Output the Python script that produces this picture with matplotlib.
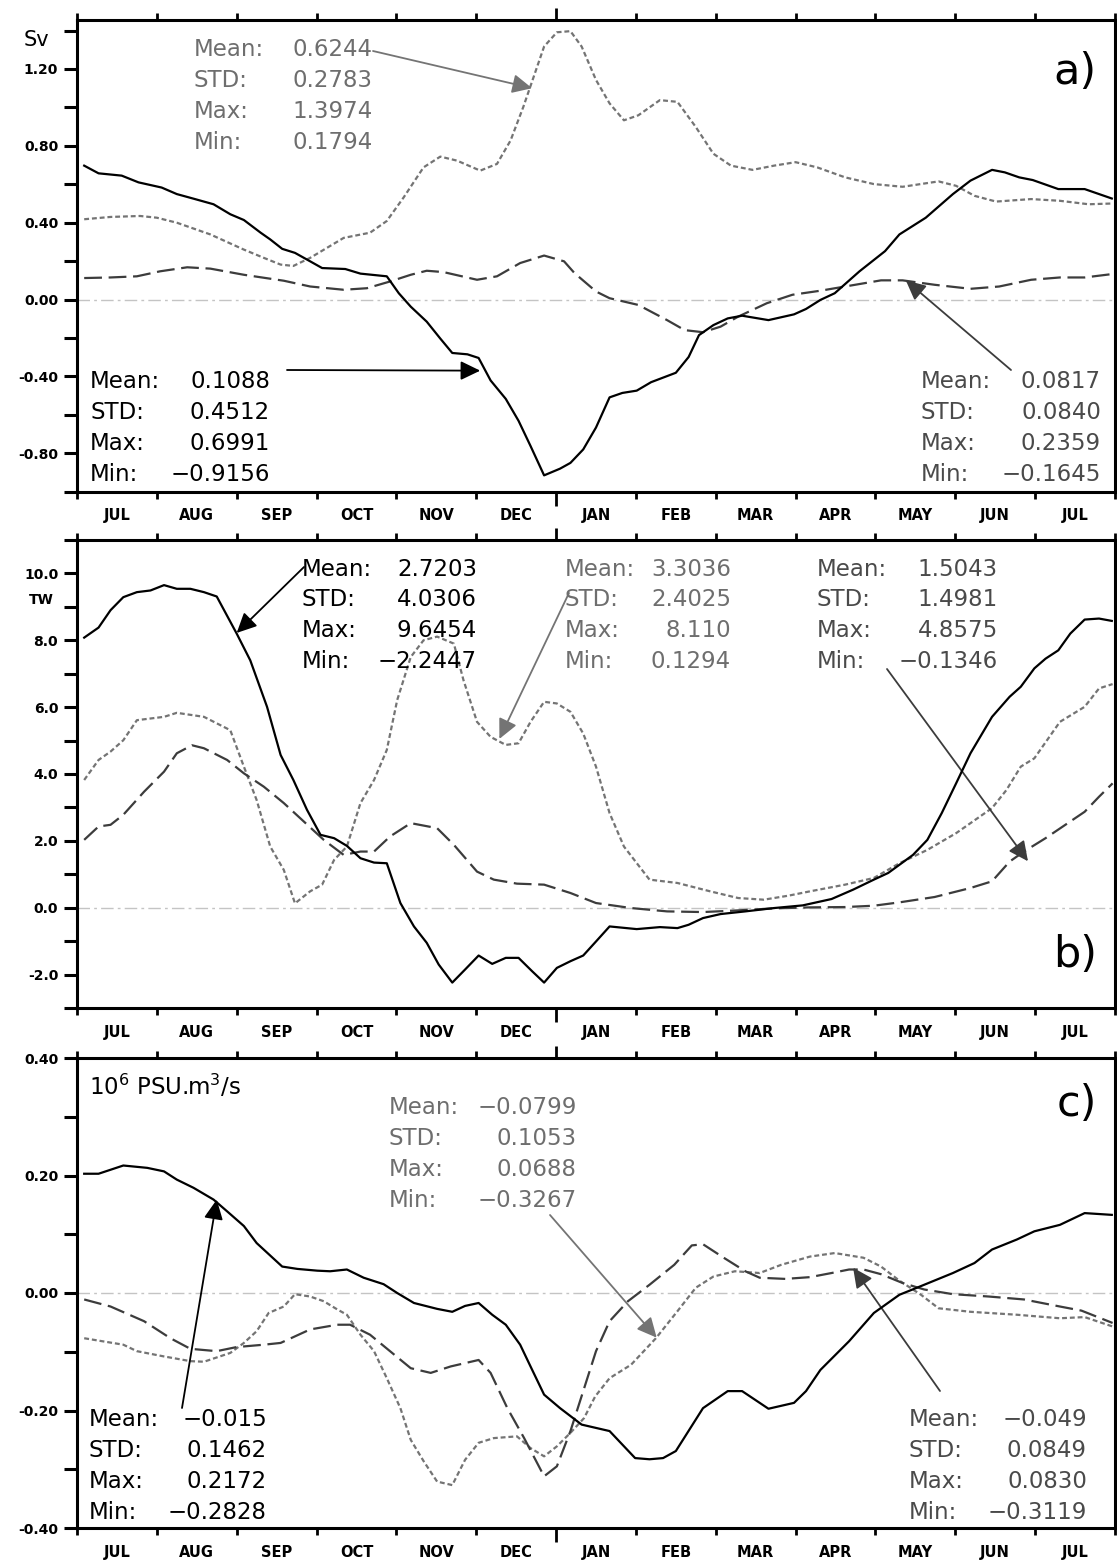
import numpy as np
import matplotlib
matplotlib.use('Agg')
import matplotlib.pyplot as plt
from matplotlib.ticker import FixedLocator, FixedFormatter, FormatStrFormatter, MultipleLocator

# x is in months from 1 JUL (0) to 1 AUG of the next year (13)
MONTHS = ['JUL', 'AUG', 'SEP', 'OCT', 'NOV', 'DEC', 'JAN', 'FEB', 'MAR', 'APR', 'MAY', 'JUN', 'JUL']
STAT_LABELS = ['Mean:', 'STD:', 'Max:', 'Min:']

# ---- panel a (Sv) ----
a_solid_m = [0.09, 0.27, 0.56, 0.77, 1.06, 1.25, 1.46, 1.71, 1.92, 2.09, 2.30, 2.42, 2.57, 2.73, 2.92, 3.07, 3.36,
             3.55, 3.88, 4.03, 4.18, 4.38, 4.55, 4.70, 4.89, 5.03, 5.18, 5.37, 5.53, 5.68, 5.85, 6.05, 6.18, 6.34,
             6.50, 6.67, 6.83, 7.01, 7.19, 7.50, 7.66, 7.79, 7.97, 8.15, 8.33, 8.66, 8.98, 9.13, 9.31, 9.49, 9.80,
             10.12, 10.30, 10.63, 10.97, 11.19, 11.46, 11.62, 11.80, 11.97, 12.29, 12.62, 12.96]
a_solid_v = [0.697, 0.657, 0.645, 0.61, 0.583, 0.549, 0.525, 0.496, 0.444, 0.414, 0.348, 0.313, 0.264, 0.243, 0.199,
             0.164, 0.159, 0.135, 0.121, 0.033, -0.037, -0.115, -0.203, -0.278, -0.285, -0.304, -0.421, -0.517,
             -0.631, -0.762, -0.915, -0.88, -0.85, -0.78, -0.666, -0.509, -0.486, -0.474, -0.43, -0.381, -0.299,
             -0.185, -0.133, -0.098, -0.084, -0.107, -0.077, -0.049, -0.002, 0.033, 0.147, 0.252, 0.339, 0.426,
             0.549, 0.619, 0.675, 0.662, 0.636, 0.622, 0.575, 0.575, 0.526]
a_grey_m = [0.09, 0.42, 0.79, 1.0, 1.25, 1.67, 2.09, 2.34, 2.55, 2.71, 2.92, 3.13, 3.34, 3.67, 3.88, 4.09, 4.34, 4.55,
            4.76, 5.05, 5.26, 5.43, 5.59, 5.72, 5.85, 6.01, 6.18, 6.32, 6.50, 6.67, 6.85, 7.03, 7.30, 7.52, 7.75,
            7.97, 8.19, 8.46, 8.73, 9.00, 9.27, 9.62, 9.98, 10.34, 10.79, 11.01, 11.24, 11.51, 11.95, 12.31, 12.67,
            12.97]
a_grey_v = [0.418, 0.43, 0.435, 0.426, 0.40, 0.339, 0.26, 0.217, 0.182, 0.175, 0.217, 0.269, 0.321, 0.348, 0.409,
            0.531, 0.688, 0.744, 0.723, 0.671, 0.706, 0.828, 1.003, 1.16, 1.317, 1.391, 1.397, 1.317, 1.143, 1.021,
            0.933, 0.959, 1.038, 1.029, 0.898, 0.759, 0.697, 0.675, 0.697, 0.715, 0.688, 0.636, 0.601, 0.587, 0.615,
            0.592, 0.54, 0.51, 0.523, 0.514, 0.496, 0.50]
a_dash_m = [0.09, 0.42, 0.75, 1.04, 1.38, 1.67, 2.09, 2.59, 2.92, 3.34, 3.63, 3.92, 4.18, 4.38, 4.59, 5.01, 5.26,
            5.55, 5.85, 6.10, 6.23, 6.50, 6.67, 7.03, 7.39, 7.61, 7.84, 8.06, 8.28, 8.64, 8.96, 9.31, 9.62, 10.07,
            10.34, 10.74, 11.19, 11.55, 11.95, 12.31, 12.62, 12.97]
a_dash_v = [0.112, 0.115, 0.121, 0.147, 0.168, 0.161, 0.129, 0.098, 0.068, 0.051, 0.059, 0.094, 0.129, 0.15, 0.143,
            0.103, 0.121, 0.19, 0.229, 0.199, 0.138, 0.042, 0.007, -0.028, -0.107, -0.159, -0.17, -0.141, -0.089,
            -0.019, 0.025, 0.046, 0.068, 0.10, 0.10, 0.077, 0.056, 0.068, 0.103, 0.115, 0.115, 0.133]

# ---- panel b (TW) ----
b_solid_m = [0.09, 0.27, 0.42, 0.58, 0.75, 0.92, 1.09, 1.25, 1.42, 1.59, 1.75, 2.0, 2.17, 2.38, 2.55, 2.71, 2.88,
             3.05, 3.22, 3.38, 3.55, 3.72, 3.88, 4.05, 4.22, 4.38, 4.53, 4.70, 4.86, 5.03, 5.20, 5.37, 5.53, 5.70,
             5.85, 6.01, 6.18, 6.34, 6.50, 6.67, 7.01, 7.30, 7.52, 7.66, 7.84, 8.06, 8.37, 8.73, 9.09, 9.45, 9.72,
             9.98, 10.16, 10.47, 10.65, 10.83, 11.01, 11.19, 11.46, 11.68, 11.82, 11.99, 12.13, 12.29, 12.44, 12.62,
             12.80, 12.96]
b_solid_v = [8.08, 8.38, 8.90, 9.29, 9.44, 9.49, 9.65, 9.54, 9.54, 9.44, 9.31, 8.20, 7.40, 6.01, 4.57, 3.82, 2.93,
             2.18, 2.08, 1.85, 1.48, 1.35, 1.33, 0.14, -0.56, -1.05, -1.70, -2.24, -1.85, -1.43, -1.68, -1.50, -1.50,
             -1.90, -2.24, -1.80, -1.60, -1.43, -1.01, -0.56, -0.64, -0.58, -0.61, -0.51, -0.31, -0.19, -0.11, -0.01,
             0.07, 0.26, 0.54, 0.84, 1.04, 1.58, 2.03, 2.83, 3.72, 4.62, 5.71, 6.31, 6.61, 7.16, 7.45, 7.70, 8.20,
             8.62, 8.65, 8.58]
b_grey_m = [0.09, 0.27, 0.42, 0.58, 0.75, 1.09, 1.25, 1.59, 1.92, 2.09, 2.25, 2.42, 2.59, 2.73, 2.92, 3.07, 3.22,
            3.38, 3.55, 3.72, 3.88, 4.01, 4.18, 4.34, 4.51, 4.72, 4.84, 5.01, 5.18, 5.37, 5.53, 5.68, 5.85, 6.01,
            6.18, 6.34, 6.50, 6.67, 6.85, 7.17, 7.52, 7.93, 8.28, 8.60, 8.91, 9.18, 9.62, 9.98, 10.30, 10.65, 11.01,
            11.46, 11.64, 11.82, 11.99, 12.31, 12.62, 12.80, 12.97]
b_grey_v = [3.82, 4.42, 4.67, 5.01, 5.61, 5.71, 5.83, 5.71, 5.31, 4.22, 3.22, 1.83, 1.13, 0.13, 0.49, 0.69, 1.43,
            1.83, 3.13, 3.82, 4.72, 6.21, 7.50, 8.0, 8.11, 7.90, 6.81, 5.56, 5.11, 4.87, 4.92, 5.56, 6.16, 6.11,
            5.86, 5.21, 4.22, 2.83, 1.83, 0.84, 0.74, 0.49, 0.29, 0.24, 0.36, 0.49, 0.69, 0.89, 1.33, 1.73, 2.23,
            2.98, 3.52, 4.22, 4.47, 5.56, 6.01, 6.56, 6.69]
b_dash_m = [0.09, 0.27, 0.42, 0.58, 0.84, 1.09, 1.25, 1.44, 1.59, 1.88, 2.09, 2.34, 2.59, 2.84, 3.09, 3.34, 3.55,
            3.72, 3.92, 4.18, 4.51, 4.72, 5.01, 5.22, 5.51, 5.85, 6.18, 6.50, 6.94, 7.39, 7.84, 8.28, 8.73, 9.18,
            9.62, 9.98, 10.30, 10.74, 11.19, 11.46, 11.68, 11.86, 12.13, 12.44, 12.62, 12.80, 12.97]
b_dash_v = [2.03, 2.43, 2.48, 2.78, 3.47, 4.07, 4.62, 4.86, 4.77, 4.42, 4.02, 3.62, 3.13, 2.58, 2.03, 1.58, 1.68,
            1.68, 2.13, 2.53, 2.38, 1.88, 1.08, 0.84, 0.72, 0.69, 0.44, 0.14, -0.01, -0.11, -0.13, -0.08, -0.02,
            0.01, 0.02, 0.06, 0.16, 0.32, 0.59, 0.79, 1.38, 1.68, 2.08, 2.58, 2.87, 3.32, 3.72]

# ---- panel c (10^6 PSU.m3/s) ----
c_solid_m = [0.09, 0.27, 0.58, 0.88, 1.09, 1.25, 1.46, 1.71, 1.88, 2.09, 2.25, 2.57, 2.76, 3.01, 3.17, 3.38, 3.59,
             3.84, 4.01, 4.22, 4.51, 4.70, 4.86, 5.03, 5.20, 5.37, 5.55, 5.68, 5.85, 6.05, 6.32, 6.67, 6.99, 7.17,
             7.34, 7.50, 7.84, 8.15, 8.33, 8.66, 8.98, 9.13, 9.31, 9.67, 9.98, 10.30, 10.52, 10.97, 11.24, 11.46,
             11.77, 11.99, 12.31, 12.62, 12.96]
c_solid_v = [0.203, 0.203, 0.217, 0.213, 0.207, 0.193, 0.179, 0.159, 0.139, 0.114, 0.085, 0.045, 0.041, 0.038,
             0.037, 0.040, 0.026, 0.015, 0.0, -0.017, -0.027, -0.032, -0.022, -0.017, -0.037, -0.054, -0.088, -0.125,
             -0.173, -0.196, -0.224, -0.235, -0.281, -0.283, -0.281, -0.269, -0.196, -0.167, -0.167, -0.197, -0.187,
             -0.167, -0.131, -0.082, -0.034, -0.003, 0.009, 0.034, 0.051, 0.074, 0.091, 0.105, 0.116, 0.136, 0.133]
c_grey_m = [0.09, 0.58, 0.75, 1.09, 1.42, 1.59, 1.92, 2.09, 2.25, 2.40, 2.59, 2.73, 2.92, 3.09, 3.26, 3.38, 3.55,
            3.72, 3.88, 4.05, 4.18, 4.34, 4.51, 4.70, 4.86, 5.03, 5.22, 5.51, 5.68, 5.85, 6.01, 6.18, 6.35, 6.49,
            6.67, 6.94, 7.25, 7.52, 7.75, 7.97, 8.24, 8.55, 8.82, 9.18, 9.49, 9.85, 10.07, 10.30, 10.57, 10.79,
            11.19, 11.77, 12.31, 12.62, 12.97]
c_grey_v = [-0.077, -0.088, -0.099, -0.108, -0.116, -0.117, -0.102, -0.085, -0.065, -0.034, -0.023, -0.002, -0.006,
            -0.014, -0.028, -0.037, -0.071, -0.099, -0.145, -0.196, -0.25, -0.286, -0.321, -0.327, -0.284, -0.255,
            -0.247, -0.244, -0.264, -0.278, -0.261, -0.238, -0.213, -0.176, -0.145, -0.122, -0.077, -0.031, 0.009,
            0.028, 0.037, 0.034, 0.048, 0.062, 0.068, 0.060, 0.045, 0.021, -0.003, -0.026, -0.032, -0.037, -0.043,
            -0.041, -0.057]
c_dash_m = [0.09, 0.42, 0.84, 1.17, 1.42, 1.75, 2.0, 2.34, 2.55, 2.92, 3.26, 3.42, 3.67, 3.92, 4.18, 4.43, 4.68,
            5.03, 5.18, 5.39, 5.60, 5.85, 6.01, 6.18, 6.34, 6.50, 6.67, 6.90, 7.17, 7.48, 7.70, 7.84, 8.10, 8.37,
            8.55, 8.87, 9.18, 9.45, 9.67, 9.85, 10.07, 10.34, 10.61, 10.97, 11.42, 11.86, 12.31, 12.58, 12.97]
c_dash_v = [-0.011, -0.023, -0.048, -0.077, -0.095, -0.099, -0.092, -0.088, -0.085, -0.062, -0.054, -0.054, -0.071,
            -0.099, -0.128, -0.136, -0.125, -0.114, -0.136, -0.196, -0.247, -0.312, -0.295, -0.235, -0.167, -0.099,
            -0.048, -0.014, 0.014, 0.048, 0.081, 0.083, 0.060, 0.037, 0.026, 0.024, 0.027, 0.034, 0.040, 0.040,
            0.032, 0.017, 0.006, -0.002, -0.006, -0.011, -0.023, -0.030, -0.051]

# statistics written in the panels
a_stats_solid = ['0.1088', '0.4512', '0.6991', '\u22120.9156']
a_stats_grey = ['0.6244', '0.2783', '1.3974', '0.1794']
a_stats_dash = ['0.0817', '0.0840', '0.2359', '\u22120.1645']
b_stats_solid = ['2.7203', '4.0306', '9.6454', '\u22122.2447']
b_stats_grey = ['3.3036', '2.4025', '8.110', '0.1294']
b_stats_dash = ['1.5043', '1.4981', '4.8575', '\u22120.1346']
c_stats_solid = ['\u22120.015', '0.1462', '0.2172', '\u22120.2828']
c_stats_grey = ['\u22120.0799', '0.1053', '0.0688', '\u22120.3267']
c_stats_dash = ['\u22120.049', '0.0849', '0.0830', '\u22120.3119']

W, H = 1117, 1562
BLACK, GREY, DARK = '#000000', '#747474', '#3c3c3c'
STAT_GREY, STAT_DARK = '#6e6e6e', '#4a4a4a'

fig = plt.figure(figsize=(W / 100, H / 100), dpi=100)


def make_axes(top, bot, ylim, major, minor, fmt):
    ax = fig.add_axes([77 / W, 1 - bot / H, (1115 - 77) / W, (bot - top) / H])
    ax.set_xlim(0, 13)
    ax.set_ylim(*ylim)
    for s in ax.spines.values():
        s.set_linewidth(2.2)
    ax.yaxis.set_major_locator(MultipleLocator(major))
    ax.yaxis.set_minor_locator(MultipleLocator(minor))
    ax.yaxis.set_major_formatter(FormatStrFormatter(fmt))
    ax.tick_params(axis='y', which='both', direction='out', length=9.5, width=2.2, pad=4,
                   labelsize=10, right=False)
    for lab in ax.get_yticklabels():
        lab.set_fontweight('bold')
    # month boundaries (major) and month names (minor, centred)
    ax.xaxis.set_major_locator(FixedLocator(np.arange(0, 14)))
    ax.xaxis.set_major_formatter(FixedFormatter([''] * 14))
    ax.xaxis.set_minor_locator(FixedLocator(np.arange(13) + 0.5))
    ax.xaxis.set_minor_formatter(FixedFormatter(MONTHS))
    ax.tick_params(axis='x', which='major', direction='out', top=True, bottom=True, length=5, width=2)
    ax.tick_params(axis='x', which='minor', length=0, pad=12, labelsize=10.5)
    for lab in ax.get_xticklabels(minor=True):
        lab.set_fontweight('bold')
    ticks = ax.xaxis.get_major_ticks()
    ticks[6].tick1line.set_markersize(10)
    ticks[6].tick2line.set_markersize(9)
    ax.axhline(0, color='#c4c4c4', lw=1, dashes=(9, 3, 2, 3), zorder=1)
    return ax


def draw_lines(ax, sm, sv, gm, gv, dm, dv):
    ax.plot(gm, gv, color=GREY, lw=1.6, dashes=(2.2, 1.3), zorder=2)
    ax.plot(dm, dv, color=DARK, lw=1.6, dashes=(8, 3), zorder=3)
    ax.plot(sm, sv, color=BLACK, lw=1.6, zorder=4)


def stats(xl, xr, y0, vals, color):
    for i, (lab, val) in enumerate(zip(STAT_LABELS, vals)):
        y = H - (y0 + i * 30.8) - 8.5
        kw = dict(color=color, fontsize=16.5, va='baseline')
        fig.text(xl / W, y / H, lab, ha='left', **kw)
        fig.text(xr / W, y / H, val, ha='right', **kw)


def arrow(ax, xy, start, color):
    ax.annotate('', xy=xy, xycoords='data', xytext=(start[0], H - start[1]), textcoords='figure pixels',
                arrowprops=dict(arrowstyle='-|>,head_length=0.6,head_width=0.29', mutation_scale=20,
                                lw=1.3, color=color, shrinkA=0, shrinkB=0), annotation_clip=False)


# panel a
ax_a = make_axes(20, 491.7, (-1.0, 1.455), 0.4, 0.2, '%.2f')
draw_lines(ax_a, a_solid_m, a_solid_v, a_grey_m, a_grey_v, a_dash_m, a_dash_v)
stats(194, 373, 48, a_stats_grey, STAT_GREY)
stats(90, 270, 380, a_stats_solid, BLACK)
stats(921, 1101, 380, a_stats_dash, STAT_DARK)
arrow(ax_a, (5.70, 1.10), (373, 51), GREY)
arrow(ax_a, (5.05, -0.37), (287, 370), BLACK)
arrow(ax_a, (10.38, 0.10), (1011, 370), DARK)
fig.text(36 / W, 1 - 40 / H, 'Sv', fontsize=15, ha='center', va='center')
fig.text(1097 / W, 1 - 72 / H, 'a)', fontsize=31, ha='right', va='center')

# panel b
ax_b = make_axes(540, 1008, (-3.0, 11.0), 2.0, 1.0, '%.1f')
draw_lines(ax_b, b_solid_m, b_solid_v, b_grey_m, b_grey_v, b_dash_m, b_dash_v)
stats(302, 477, 567, b_stats_solid, BLACK)
stats(565, 731, 567, b_stats_grey, STAT_GREY)
stats(817, 998, 567, b_stats_dash, STAT_DARK)
arrow(ax_b, (2.0, 8.22), (304, 567), BLACK)
arrow(ax_b, (5.29, 5.05), (569, 593), GREY)
arrow(ax_b, (11.91, 1.39), (887, 669), DARK)
fig.text(41 / W, 1 - 600 / H, 'TW', fontsize=10, fontweight='bold', ha='center', va='center')
fig.text(1097 / W, 1 - 955 / H, 'b)', fontsize=31, ha='right', va='center')

# panel c
ax_c = make_axes(1058, 1528, (-0.4, 0.4), 0.2, 0.1, '%.2f')
draw_lines(ax_c, c_solid_m, c_solid_v, c_grey_m, c_grey_v, c_dash_m, c_dash_v)
stats(89, 267, 1418, c_stats_solid, BLACK)
stats(389, 577, 1106, c_stats_grey, STAT_GREY)
stats(909, 1087, 1418, c_stats_dash, STAT_DARK)
arrow(ax_c, (1.75, 0.159), (182, 1408), BLACK)
arrow(ax_c, (7.26, -0.076), (550, 1215), GREY)
arrow(ax_c, (9.72, 0.043), (940, 1391), DARK)
fig.text(89 / W, 1 - 1086 / H, r'$\mathregular{10^6}$ PSU.m$\mathregular{^3}$/s', fontsize=16.5, ha='left',
         va='center')
fig.text(1097 / W, 1 - 1104 / H, 'c)', fontsize=31, ha='right', va='center')

fig.savefig('out.png', dpi=100)
